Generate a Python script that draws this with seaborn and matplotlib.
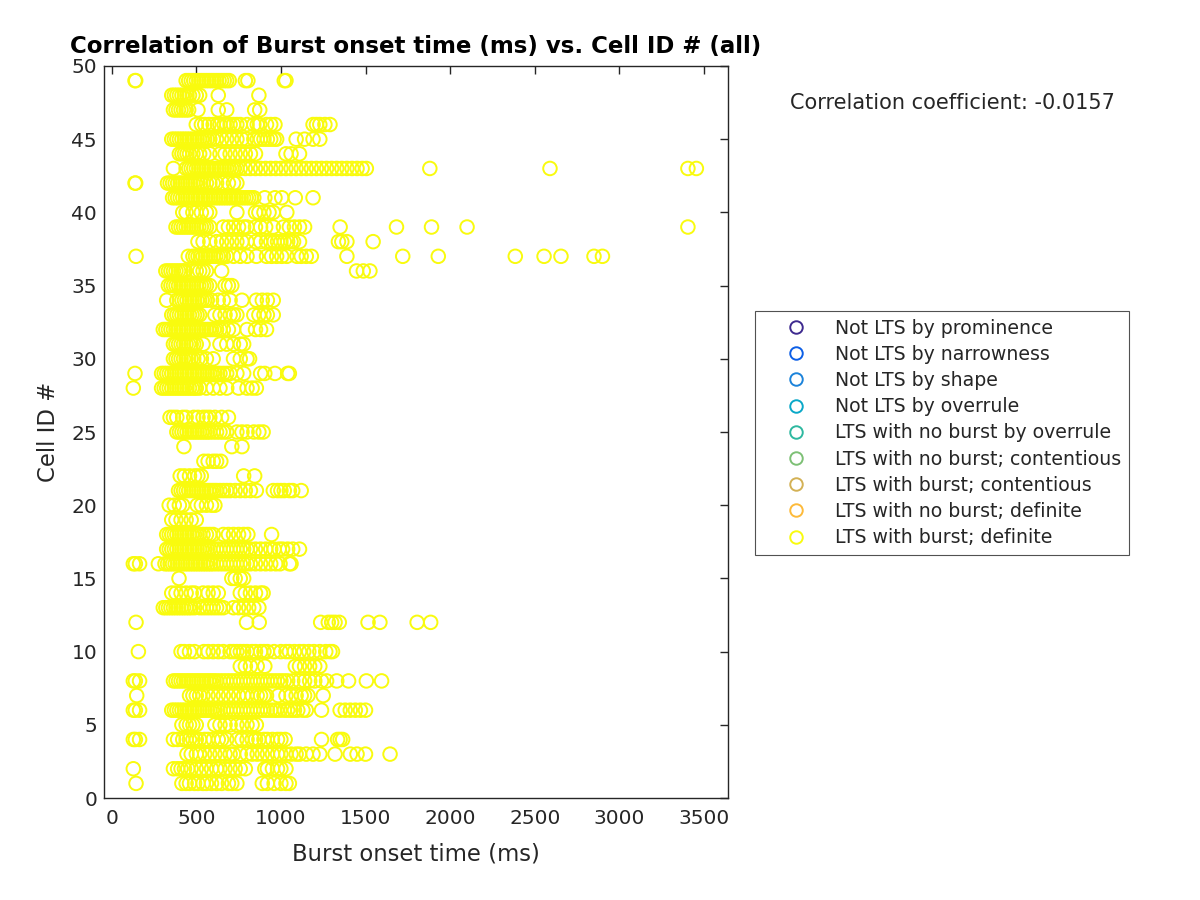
import pandas as pd
import matplotlib
matplotlib.use("Agg")
import matplotlib.pyplot as plt
import seaborn as sns
from matplotlib.lines import Line2D

# burst onset times (ms) read per cell ID
cell_01 = [144, 415, 440, 460, 490, 510, 540, 560, 590, 620, 650, 690, 710, 740, 890, 920, 960, 1000, 1030, 1050]
cell_02 = [128, 365, 390, 410, 430, 450, 470, 500, 530, 560, 590, 620, 640, 670, 700, 730, 760, 790, 905, 920, 950, 980, 1000, 1030]
cell_03 = [445, 470, 500, 520, 550, 580, 610, 640, 670, 700, 720, 760, 800, 830, 860, 890, 920, 950, 980, 1000, 1030, 1060,
           1090, 1110, 1150, 1190, 1230, 1320, 1410, 1450, 1500, 1645]
cell_04 = [128, 140, 165, 365, 390, 420, 440, 460, 480, 500, 520, 550, 570, 600, 630, 650, 680, 740, 770, 800, 830, 850, 870,
           900, 920, 950, 980, 1000, 1025, 1240, 1335, 1350, 1365]
cell_05 = [415, 440, 460, 480, 500, 610, 640, 670, 700, 740, 770, 800, 830, 855]
cell_06 = [128, 140, 165, 355, 370, 385, 400, 415, 430, 445, 460, 475, 490, 505, 520, 535, 550, 565, 580, 595, 610, 625, 640,
           660, 680, 700, 720, 740, 760, 780, 800, 820, 840, 860, 880, 900, 920, 940, 960, 975, 995, 1020, 1040, 1060, 1080,
           1100, 1130, 1150, 1240, 1350, 1380, 1410, 1440, 1470, 1500]
cell_07 = [148, 460, 480, 500, 520, 540, 570, 600, 630, 660, 690, 720, 750, 780, 800, 830, 860, 880, 900, 915, 985, 1030, 1060,
           1090, 1120, 1140, 1160, 1250]
cell_08 = [128, 140, 165, 365, 380, 395, 410, 425, 440, 455, 470, 485, 500, 515, 530, 545, 560, 575, 590, 605, 620, 640, 660,
           680, 700, 720, 740, 760, 780, 800, 820, 840, 860, 880, 900, 920, 940, 960, 980, 1000, 1020, 1040, 1070, 1110, 1140,
           1170, 1200, 1240, 1270, 1330, 1400, 1505, 1595]
cell_09 = [760, 790, 820, 860, 905, 1085, 1110, 1140, 1170, 1200, 1230]
cell_10 = [158, 410, 430, 460, 490, 545, 570, 600, 630, 660, 700, 720, 740, 760, 780, 800, 830, 850, 880, 900, 920, 960, 1000,
           1030, 1050, 1080, 1110, 1135, 1165, 1195, 1230, 1265, 1290, 1305]
cell_12 = [144, 797, 872, 1235, 1280, 1300, 1320, 1345, 1515, 1585, 1805, 1885]
cell_13 = [305, 320, 335, 350, 365, 380, 395, 410, 425, 440, 455, 470, 490, 520, 540, 560, 580, 600, 620, 640, 660, 720, 750,
           780, 810, 840, 870]
cell_14 = [355, 380, 410, 440, 470, 490, 540, 570, 600, 630, 760, 790, 820, 850, 880, 895]
cell_15 = [398, 710, 730, 760, 780]
cell_16 = [128, 140, 165, 276, 315, 330, 345, 360, 375, 390, 405, 420, 435, 450, 465, 480, 495, 510, 525, 540, 555, 570, 585,
           600, 620, 640, 660, 680, 700, 720, 740, 760, 780, 800, 820, 850, 880, 910, 940, 970, 995, 1050, 1060]
cell_17 = [325, 340, 355, 370, 385, 400, 415, 430, 445, 460, 475, 490, 505, 520, 535, 550, 565, 580, 600, 620, 640, 660, 680,
           700, 720, 740, 760, 780, 800, 820, 850, 880, 910, 940, 960, 990, 1010, 1040, 1070, 1110]
cell_18 = [325, 340, 355, 370, 385, 400, 415, 430, 445, 460, 475, 490, 505, 520, 540, 560, 580, 600, 660, 690, 720, 750, 780,
           805, 945]
cell_19 = [355, 380, 410, 440, 470, 500]
cell_20 = [340, 370, 400, 420, 505, 530, 560, 590, 610]
cell_21 = [395, 410, 425, 440, 455, 470, 485, 500, 515, 530, 545, 560, 575, 590, 605, 620, 640, 660, 680, 700, 730, 760, 790,
           820, 855, 955, 980, 1000, 1020, 1050, 1070, 1120]
cell_22 = [405, 430, 460, 490, 510, 530, 780, 845]
cell_23 = [545, 570, 600, 620, 645]
cell_24 = [427, 710, 770]
cell_25 = [385, 400, 415, 430, 445, 460, 475, 490, 505, 520, 535, 550, 565, 580, 600, 620, 640, 660, 680, 740, 770, 800, 840,
           870, 895]
cell_26 = [345, 365, 385, 420, 440, 485, 510, 540, 560, 580, 610, 650, 690]
cell_28 = [128, 295, 310, 325, 340, 355, 370, 385, 400, 415, 430, 445, 460, 475, 490, 500, 520, 560, 600, 640, 680, 750, 800,
           830, 855]
cell_29 = [138, 295, 310, 325, 340, 355, 370, 385, 400, 415, 430, 445, 460, 475, 490, 505, 520, 535, 550, 565, 580, 595, 610,
           625, 640, 660, 680, 700, 740, 780, 880, 905, 965, 1040, 1050]
cell_30 = [365, 380, 395, 410, 425, 440, 455, 470, 485, 510, 530, 560, 600, 720, 760, 800, 815]
cell_31 = [365, 380, 395, 410, 425, 440, 455, 470, 485, 500, 540, 640, 680, 720, 760, 780]
cell_32 = [305, 320, 335, 350, 365, 380, 395, 410, 425, 440, 455, 470, 485, 500, 515, 530, 545, 560, 575, 590, 605, 620, 640,
           660, 690, 720, 800, 850, 880, 915]
cell_33 = [355, 370, 385, 400, 415, 430, 445, 460, 475, 490, 505, 520, 610, 640, 670, 700, 720, 740, 840, 870, 900, 920, 955]
cell_34 = [325, 385, 400, 415, 430, 445, 460, 475, 490, 505, 520, 535, 550, 565, 590, 630, 660, 700, 770, 855, 890, 920, 955]
cell_35 = [335, 350, 365, 380, 395, 410, 425, 440, 455, 470, 485, 500, 515, 530, 545, 560, 580, 670, 690, 710]
cell_36 = [320, 335, 350, 365, 380, 395, 410, 425, 435, 480, 500, 520, 540, 560, 650, 1447, 1487, 1526]
cell_37 = [144, 453, 480, 495, 510, 525, 540, 555, 570, 585, 600, 615, 630, 645, 660, 680, 720, 760, 800, 855, 915, 945, 975,
           1005, 1035, 1095, 1120, 1150, 1180, 1390, 1720, 1930, 2385, 2555, 2655, 2850, 2900]
cell_38 = [510, 540, 580, 620, 650, 680, 710, 740, 770, 800, 850, 880, 915, 940, 960, 980, 1000, 1020, 1040, 1060, 1075, 1110,
           1340, 1360, 1390, 1545]
cell_39 = [380, 395, 410, 425, 440, 455, 470, 485, 500, 515, 530, 545, 560, 580, 660, 690, 720, 750, 780, 800, 850, 880, 910,
           955, 1015, 1050, 1080, 1110, 1140, 1350, 1683, 1890, 2100, 3405]
cell_40 = [420, 440, 480, 500, 530, 560, 580, 740, 850, 870, 900, 930, 955, 1035]
cell_41 = [360, 375, 390, 405, 420, 435, 450, 465, 480, 495, 510, 525, 540, 555, 570, 585, 600, 615, 630, 645, 660, 675, 690,
           705, 720, 735, 750, 765, 780, 795, 810, 825, 840, 905, 965, 1005, 1085, 1190]
cell_42 = [138, 142, 330, 345, 360, 375, 390, 405, 420, 435, 450, 465, 480, 495, 510, 525, 540, 560, 580, 600, 620, 655, 690,
           720, 740]
cell_43 = [365, 440, 455, 470, 485, 500, 515, 530, 545, 560, 575, 590, 605, 620, 635, 650, 665, 680, 695, 710, 725, 740, 760,
           790, 820, 850, 880, 910, 940, 970, 1000, 1030, 1060, 1090, 1120, 1150, 1180, 1210, 1240, 1270, 1300, 1330, 1360,
           1390, 1420, 1450, 1480, 1505, 1880, 2590, 3405, 3455]
cell_44 = [400, 415, 430, 445, 460, 480, 500, 520, 545, 580, 640, 670, 700, 730, 760, 790, 820, 850, 1030, 1060, 1110]
cell_45 = [355, 370, 385, 400, 415, 430, 445, 460, 475, 490, 505, 520, 535, 550, 565, 580, 600, 620, 650, 680, 710, 740, 770,
           797, 840, 860, 880, 900, 920, 940, 960, 975, 1090, 1140, 1190, 1230]
cell_46 = [500, 530, 550, 575, 600, 625, 640, 665, 680, 700, 720, 740, 760, 800, 840, 860, 875, 915, 940, 965, 1190, 1210,
           1230, 1260, 1290]
cell_47 = [365, 380, 395, 410, 425, 440, 455, 510, 630, 680, 845, 875]
cell_48 = [355, 370, 385, 400, 415, 430, 445, 460, 480, 500, 520, 630, 870]
cell_49 = [138, 142, 440, 455, 470, 485, 500, 515, 530, 545, 560, 575, 590, 605, 620, 635, 650, 665, 680, 695, 790, 805,
           1020, 1030]

onsets_by_cell = {
    1: cell_01, 2: cell_02, 3: cell_03, 4: cell_04, 5: cell_05, 6: cell_06, 7: cell_07, 8: cell_08, 9: cell_09,
    10: cell_10, 12: cell_12, 13: cell_13, 14: cell_14, 15: cell_15, 16: cell_16, 17: cell_17, 18: cell_18,
    19: cell_19, 20: cell_20, 21: cell_21, 22: cell_22, 23: cell_23, 24: cell_24, 25: cell_25, 26: cell_26,
    28: cell_28, 29: cell_29, 30: cell_30, 31: cell_31, 32: cell_32, 33: cell_33, 34: cell_34, 35: cell_35,
    36: cell_36, 37: cell_37, 38: cell_38, 39: cell_39, 40: cell_40, 41: cell_41, 42: cell_42, 43: cell_43,
    44: cell_44, 45: cell_45, 46: cell_46, 47: cell_47, 48: cell_48, 49: cell_49,
}

categories = ["Not LTS by prominence", "Not LTS by narrowness", "Not LTS by shape", "Not LTS by overrule",
              "LTS with no burst by overrule", "LTS with no burst; contentious", "LTS with burst; contentious",
              "LTS with no burst; definite", "LTS with burst; definite"]
category_colors = ["#3E2A8F", "#0D5FE6", "#1C83DA", "#0AA8C8", "#2EB8A0", "#7DC075", "#D3B155", "#FDBA3A", "#F9FB0E"]
corr_coef = "-0.0157"

rows = []
for cell_id, times in onsets_by_cell.items():
    for t in times:
        rows.append({"onset": t, "cell": cell_id, "category": "LTS with burst; definite"})
df = pd.DataFrame(rows)

sns.set_style("white")
plt.rcParams["font.family"] = ["DejaVu Sans"]
axis_col = "#262626"

fig = plt.figure(figsize=(12, 9), dpi=100)
ax = fig.add_axes([0.0867, 0.1133, 0.5197, 0.8134])

sns.scatterplot(data=df, x="onset", y="cell", ax=ax, marker="o", s=95,
                facecolors="none", edgecolor=category_colors[-1], linewidth=1.4, legend=False)

ax.set_xlim(-45, 3640)
ax.set_ylim(0, 50)
ax.set_xticks([0, 500, 1000, 1500, 2000, 2500, 3000, 3500])
ax.set_yticks(range(0, 51, 5))
ax.tick_params(direction="in", top=True, right=True, length=6, width=1, colors=axis_col,
               labelsize=14.5, labelcolor=axis_col, pad=5)
ax.tick_params(axis="x", pad=8)
for sp in ax.spines.values():
    sp.set_color(axis_col)
    sp.set_linewidth(1)
ax.set_xlabel("Burst onset time (ms)", fontsize=16.4, color=axis_col, labelpad=10)
ax.set_ylabel("Cell ID #", fontsize=16.4, color=axis_col, labelpad=8)
ax.set_title("Correlation of Burst onset time (ms) vs. Cell ID # (all)", fontsize=16.5,
             fontweight="bold", color="black", pad=9)

fig.text(0.658, 0.886, "Correlation coefficient: " + corr_coef, fontsize=15, va="center", ha="left")

handles = [Line2D([], [], linestyle="none", marker="o", markersize=9, markerfacecolor="none",
                  markeredgecolor=c, markeredgewidth=1.4) for c in category_colors]
leg = fig.legend(handles, categories, loc="center left", bbox_to_anchor=(0.629, 0.519),
                 fontsize=13.6, frameon=True, fancybox=False, edgecolor=axis_col, borderaxespad=0,
                 handlelength=3.6, handletextpad=0.25, labelspacing=0.38, borderpad=0.4)
leg.get_frame().set_linewidth(0.8)

fig.savefig("out.png", dpi=100)
